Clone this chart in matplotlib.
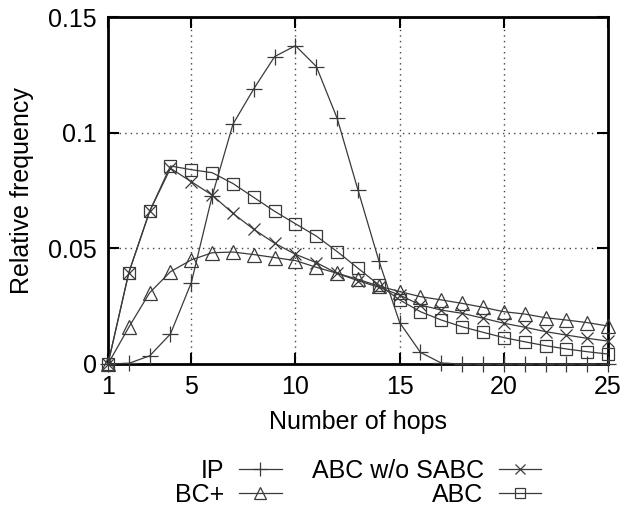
import matplotlib
matplotlib.use('agg')

import matplotlib.pyplot as plt
import numpy as np

plt.rcParams['font.family'] = ['Liberation Sans', 'DejaVu Sans']

hops = np.arange(1, 26)

ip = [0, 0.0003, 0.0035, 0.013, 0.0352, 0.0726, 0.1037, 0.119, 0.1329, 0.1376,
      0.1286, 0.1062, 0.0752, 0.0447, 0.0179, 0.005, 0.0004, 0, 0, 0,
      0, 0, 0, 0, 0]
bc_plus = [0, 0.0159, 0.0308, 0.0399, 0.045, 0.0481, 0.0484, 0.0473, 0.046, 0.0447,
           0.0418, 0.0392, 0.0366, 0.0337, 0.0313, 0.0291, 0.0277, 0.0262, 0.0245, 0.0226,
           0.0216, 0.020, 0.019, 0.0179, 0.0164]
abc_wo_sabc = [0, 0.0395, 0.066, 0.0846, 0.0788, 0.073, 0.0651, 0.0582, 0.0522, 0.0474,
               0.0438, 0.0392, 0.036, 0.0332, 0.0298, 0.0255, 0.0233, 0.0219, 0.0198, 0.0176,
               0.0159, 0.014, 0.0125, 0.0111, 0.0099]
abc = [0, 0.0395, 0.066, 0.0856, 0.084, 0.0827, 0.078, 0.072, 0.066, 0.0606,
       0.0553, 0.0486, 0.0414, 0.0342, 0.0277, 0.0226, 0.019, 0.0161, 0.0137, 0.0114,
       0.0096, 0.0079, 0.0065, 0.0053, 0.0043]

fig = plt.figure(figsize=(6.22, 5.11), dpi=100)
ax = fig.add_axes([0.1736, 0.2877, 0.8039, 0.679])

col = '#3a3a3a'
common = dict(color=col, lw=0.9, markeredgewidth=0.9,
              markerfacecolor='none', clip_on=False, zorder=3)
ax.plot(hops, ip, marker='+', label='IP', markersize=12, **common)
ax.plot(hops, bc_plus, marker='^', label='BC+', markersize=10, **common)
ax.plot(hops, abc_wo_sabc, marker='x', label='ABC w/o SABC', markersize=9, **common)
ax.plot(hops, abc, marker='s', label='ABC', markersize=9, **common)

ax.set_xlim(1, 25)
ax.set_ylim(0, 0.15)
ax.set_xticks([1, 5, 10, 15, 20, 25])
ax.set_yticks([0, 0.05, 0.1, 0.15])
ax.set_yticklabels(['0', '0.05', '0.1', '0.15'])
ax.grid(True, linestyle=(0, (1, 3)), color='#444444', lw=1)
ax.tick_params(direction='in', length=8, width=1.5, top=True, right=True,
               labelsize=18, pad=8)
for s in ax.spines.values():
    s.set_linewidth(2)

ax.set_xlabel('Number of hops', fontsize=18, labelpad=8)
ax.set_ylabel('Relative frequency', fontsize=18, labelpad=10)

ax.legend(loc='upper center', bbox_to_anchor=(0.5, -0.237), ncol=2, frameon=False,
          markerfirst=False, fontsize=18, labelspacing=0.0, columnspacing=1.2,
          handlelength=1.7, handletextpad=0.6, borderpad=0, markerscale=0.8)

fig.savefig('out.png', dpi=100)
